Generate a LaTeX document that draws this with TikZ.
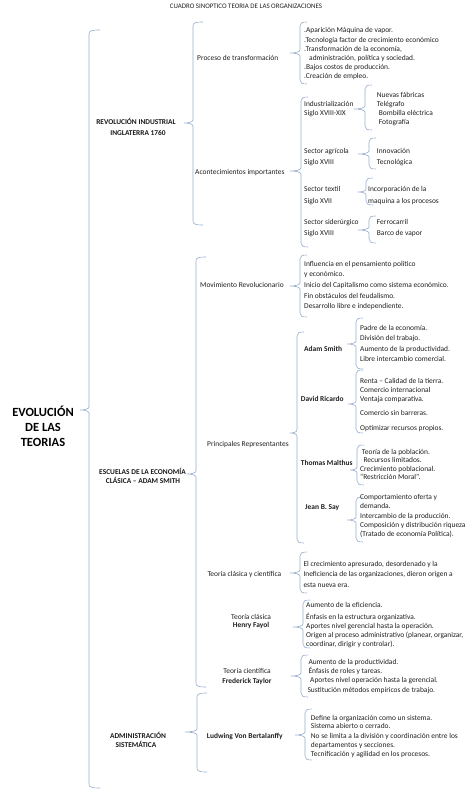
\documentclass[tikz,border=0pt]{standalone}
\usepackage{fontspec}
\setmainfont{Carlito}
\definecolor{brcol}{RGB}{150,172,205}
\newcommand\brc[6][7]{%
  \draw[brc] ({#2+#1},#3) .. controls ({#2+2},#3) and (#2,{#3+1}) .. (#2,{#3+4})
   -- (#2,{#4-3}) .. controls (#2,{#4-1}) and ({(#2+#6)/2},#4) .. (#6,#4)
   .. controls ({(#2+#6)/2},#4) and (#2,{#4+1}) .. (#2,{#4+3})
   -- (#2,{#5-4}) .. controls (#2,{#5-1}) and ({#2+2},#5) .. ({#2+#1},#5);}
\begin{document}
\begin{tikzpicture}[x=1pt,y=-1pt,
  brc/.style={draw=brcol, line width=0.6pt},
  t/.style={anchor=base west, inner sep=0pt, font=\fontsize{7.45}{8}\selectfont, text=black!88, yshift=-2.4pt},
  tb/.style={t, font=\fontsize{7.45}{8}\selectfont\bfseries},
  tc/.style={t, anchor=base},
  tcb/.style={tb, anchor=base},
  cb/.style={anchor=base, inner sep=0pt, font=\fontsize{7.4}{8}\selectfont\bfseries, text=black!90, yshift=-2.5pt},
  big/.style={anchor=base, inner sep=0pt, font=\fontsize{12.5}{14}\selectfont\bfseries, yshift=-4pt}]
\useasboundingbox (0,0) rectangle (474,794);

% title
\node[tc, font=\fontsize{6.9}{8}\selectfont] (title) at (246,6) {CUADRO SINOPTICO TEORIA DE LAS ORGANIZACIONES};

% root
\node[big] (ev1) at (43,412) {EVOLUCIÓN};
\node[big] (ev2) at (43,427) {DE LAS};
\node[big] (ev3) at (43,442) {TEORIAS};
\brc[11]{89}{30}{410}{788}{80}

% level 2 labels
\node[cb] (r1) at (136,122) {REVOLUCIÓN INDUSTRIAL};
\node[cb] (r2) at (138,132.7) {INGLATERRA 1760};
\node[cb] (e1) at (142.5,471.7) {ESCUELAS DE LA ECONOMÍA};
\node[cb] (e2) at (143,480.7) {CLÁSICA – ADAM SMITH};
\node[cb] (a1) at (138,735.7) {ADMINISTRACIÓN};
\node[cb] (a2) at (136,745.3) {SISTEMÁTICA};
\brc[10]{193}{22}{123}{225}{184}
\brc[10]{196}{257}{474}{687}{187}
\brc[10]{197}{693}{732}{772}{185}

% ---- Revolución industrial
\node[t] (pt) at (197,58) {Proceso de transformación};
\brc{300}{22}{53}{84}{290}
\node[t] (pt1) at (304,30) {.Aparición Máquina de vapor.};
\node[t] (pt2) at (304,39.7) {.Tecnología factor de crecimiento económico};
\node[t] (pt3) at (304,48.7) {.Transformación de la economía,};
\node[t] (pt4) at (309,58) {administración, política y sociedad.};
\node[t] (pt5) at (304,67) {.Bajos costos de producción.};
\node[t] (pt6) at (304,76) {.Creación de empleo.};

\node[t] (ai) at (195,172) {Acontecimientos importantes};
\brc{301}{97}{171}{247}{290}
\node[t] (in1) at (304,104) {Industrialización};
\node[t] (in2) at (304,113.3) {Siglo XVIII-XIX};
\brc{365}{85}{109}{130}{354}
\node[t] (inc1) at (376.7,94.7) {Nuevas fábricas};
\node[t] (inc2) at (376.7,104) {Telégrafo};
\node[t] (inc3) at (378.7,113) {Bombilla eléctrica};
\node[t] (inc4) at (378.7,122) {Fotografía};

\node[t] (ag1) at (304,151.3) {Sector agrícola};
\node[t] (ag2) at (304,161.7) {Siglo XVIII};
\brc{369}{138}{154}{169}{358}
\node[t] (agc1) at (376.7,151.3) {Innovación};
\node[t] (agc2) at (376.7,161.7) {Tecnológica};

\node[t] (tx1) at (304,189) {Sector textil};
\node[t] (tx2) at (304,200.7) {Siglo XVII};
\brc{366}{178}{192}{205}{358}
\node[t] (txc1) at (368,189.3) {Incorporación de la};
\node[t] (txc2) at (368,200.7) {maquina a los procesos};

\node[t] (sd1) at (304,221.7) {Sector siderúrgico};
\node[t] (sd2) at (304,232.7) {Siglo XVIII};
\brc{369}{216}{230}{243}{358}
\node[t] (sdc1) at (376.7,221.7) {Ferrocarril};
\node[t] (sdc2) at (376.7,232.7) {Barco de vapor};

% ---- Escuelas
\node[t] (mr) at (200,284.7) {Movimiento Revolucionario};
\brc{300}{255}{286}{317}{290}
\node[t] (mr1) at (304,264.3) {Influencia en el pensamiento político};
\node[t] (mr2) at (304,274.3) {y económico.};
\node[t] (mr3) at (304,284.7) {Inicio del Capitalismo como sistema económico.};
\node[t] (mr4) at (304,296) {Fin obstáculos del feudalismo.};
\node[t] (mr5) at (304,306) {Desarrollo libre e independiente.};

\node[t] (pr) at (207,444) {Principales Representantes};
\brc{297}{332}{433}{543}{290}

\node[tb] (as) at (304,349) {Adam Smith};
\brc{356}{318}{344}{369}{347}
\node[t] (as1) at (360,327.7) {Padre de la economía.};
\node[t] (as2) at (360,338) {División del trabajo.};
\node[t] (as3) at (360,349) {Aumento de la productividad.};
\node[t] (as4) at (360,359.3) {Libre intercambio comercial.};

\node[tb] (dr) at (300.7,399.3) {David Ricardo};
\brc{356}{370}{404}{433}{348}
\node[t] (dr1) at (360,380.7) {Renta – Calidad de la tierra.};
\node[t] (dr2) at (360,390) {Comercio internacional};
\node[t] (dr3) at (360,399.3) {Ventaja comparativa.};
\node[t] (dr4) at (360,413.3) {Comercio sin barreras.};
\node[t] (dr5) at (360,428.3) {Optimizar recursos propios.};

\node[tb] (tm) at (300.7,463.3) {Thomas Malthus};
\brc{357}{445}{470}{485}{350}
\node[t] (tm1) at (361.7,451.7) {Teoría de la población.};
\node[t] (tm2) at (363.3,460) {Recursos limitados.};
\node[t] (tm3) at (360,469) {Crecimiento poblacional.};
\node[t] (tm4) at (360,477.3) {“Restricción Moral”.};

\node[tb] (js) at (305,507.3) {Jean B. Say};
\brc{356}{497}{520}{542}{347}
\node[t] (js1) at (360,497.3) {Comportamiento oferta y};
\node[t] (js2) at (360,506) {demanda.};
\node[t] (js3) at (360,515.7) {Intercambio de la producción.};
\node[t] (js4) at (360,525) {Composición y distribución riqueza};
\node[t] (js5) at (360,534) {(Tratado de economía Política).};

\node[t] (tcc) at (207.3,574.3) {Teoría clásica y científica};
\brc{300}{552}{573}{593}{290}
\node[t] (tcc1) at (303.3,564.3) {El crecimiento apresurado, desordenado y la};
\node[t] (tcc2) at (303.3,574.3) {Ineficiencia de las organizaciones, dieron origen a};
\node[t] (tcc3) at (303.3,585) {esta nueva era.};

\node[tc] (hf1) at (251,616.7) {Teoría clásica};
\node[tcb] (hf2) at (251,625.5) {Henry Fayol};
\brc{303}{600}{627}{648}{293}
\node[t] (hfc1) at (306,605) {Aumento de la eficiencia.};
\node[t] (hfc2) at (306,617) {Énfasis en la estructura organizativa.};
\node[t] (hfc3) at (306,626) {Aportes nivel gerencial hasta la operación.};
\node[t] (hfc4) at (306,635) {Origen al proceso administrativo (planear, organizar,};
\node[t] (hfc5) at (306,644) {coordinar, dirigir y controlar).};

\node[tc] (ft1) at (247,671) {Teoría científica};
\node[tcb] (ft2) at (247,680.7) {Frederick Taylor};
\brc{301}{655}{676}{697}{291}
\node[t] (ftc1) at (308.3,661.7) {Aumento de la productividad.};
\node[t] (ftc2) at (308.3,671) {Énfasis de roles y tareas.};
\node[t] (ftc3) at (310,680) {Aportes nivel operación hasta la gerencial.};
\node[t] (ftc4) at (307.3,690) {Sustitución métodos empíricos de trabajo.};

% ---- Administración sistemática
\node[tb] (lb) at (206.7,735.7) {Ludwing Von Bertalanffy};
\brc{305}{709}{735}{760}{295}
\node[t] (lb1) at (310.7,717.7) {Define la organización como un sistema.};
\node[t] (lb2) at (310.7,726) {Sistema abierto o cerrado.};
\node[t] (lb3) at (310.7,735.7) {No se limita a la división y coordinación entre los};
\node[t] (lb4) at (310.7,745.3) {departamentos y secciones.};
\node[t] (lb5) at (310.7,754.3) {Tecnificación y agilidad en los procesos.};
\end{tikzpicture}
\end{document}
